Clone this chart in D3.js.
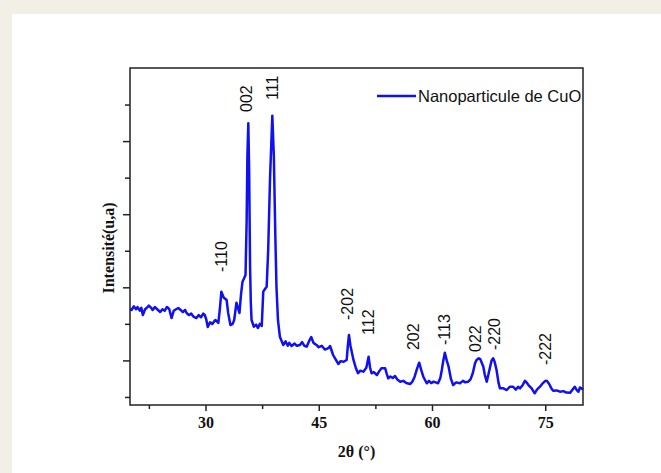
<!DOCTYPE html>
<html>
<head>
<meta charset="utf-8">
<script src="https://cdn.jsdelivr.net/npm/d3@7"></script>
<style>
  html, body { margin: 0; padding: 0; background: #f2efe7; }
  svg { display: block; }
</style>
</head>
<body>
<svg id="chart" width="661" height="473"></svg>
<script>
// ---- data ----
const twoTheta = [20.0,20.2,20.5,20.8,21.0,21.3,21.5,21.7,22.0,22.2,22.5,22.8,23.0,23.3,23.6,24.0,24.3,24.6,24.9,25.2,25.5,25.8,26.1,26.4,26.7,27.0,27.3,27.5,27.8,28.1,28.4,28.8,29.1,29.4,29.7,29.9,30.1,30.3,30.6,30.9,31.3,31.7,31.9,32.1,32.4,32.8,33.0,33.3,33.6,33.8,34.1,34.3,34.5,34.7,34.9,35.1,35.3,35.45,35.55,35.67,35.78,35.9,36.0,36.1,36.4,36.7,36.95,37.2,37.45,37.65,37.9,38.1,38.3,38.55,38.85,39.05,39.25,39.4,39.6,39.85,40.3,40.6,40.9,41.1,41.4,41.8,42.1,42.5,42.8,43.1,43.4,43.7,44.0,44.3,44.7,45.0,45.4,45.8,46.1,46.3,46.5,46.9,47.2,47.6,47.9,48.3,48.7,48.85,49.0,49.2,49.6,49.9,50.2,50.5,50.9,51.3,51.6,51.8,52.0,52.3,52.7,53.0,53.3,53.8,54.0,54.2,54.5,54.8,55.1,55.4,55.8,56.2,56.6,57.1,57.4,57.7,58.0,58.3,58.6,58.85,59.3,59.6,59.9,60.2,60.5,60.8,61.1,61.3,61.5,61.7,61.95,62.2,62.5,62.8,63.2,63.7,64.1,64.4,64.8,65.1,65.4,65.7,65.9,66.2,66.4,66.8,67.0,67.25,67.5,67.7,67.9,68.1,68.3,68.55,68.8,69.0,69.4,69.9,70.3,70.75,71.1,71.4,71.65,72.0,72.3,72.45,72.8,73.2,73.6,73.9,74.3,74.7,75.0,75.2,75.5,75.8,76.05,76.5,76.95,77.4,77.8,78.3,78.6,78.9,79.2,79.4,79.6,79.8,80.0];
const intensity = [1700,1690,1740,1700,1730,1680,1720,1621,1700,1717,1750,1720,1690,1730,1700,1662,1700,1680,1731,1700,1580,1680,1700,1717,1690,1660,1690,1649,1620,1640,1600,1580,1620,1590,1640,1621,1560,1457,1520,1500,1553,1512,1700,1940,1860,1826,1650,1484,1500,1553,1789,1720,1649,1900,2077,2120,2168,2900,3800,4244,3600,2300,1800,1553,1461,1490,1443,1500,1471,1940,1980,2008,2500,3500,4348,3800,2700,2008,1550,1324,1211,1260,1200,1240,1197,1230,1200,1211,1250,1200,1188,1260,1320,1240,1211,1180,1200,1150,1160,1170,1197,1074,1020,951,990,982,1006,1200,1348,1200,1006,900,824,860,846,900,1051,900,824,840,800,850,892,892,820,755,780,760,787,740,709,720,690,677,710,777,880,969,860,777,687,720,690,709,700,687,760,869,1000,1105,1000,914,750,664,700,687,720,700,709,740,824,960,1006,1030,1015,914,800,709,820,914,1000,1029,980,869,700,618,620,595,640,640,600,640,618,660,720,709,660,618,550,600,640,690,720,722,680,620,586,590,572,580,560,558,600,640,590,572,630,618,600];

const peakLabels = ["-110","002","111","-202","112","202","-113","022","-220","-222"];
const peakLabelTheta = [32.05,35.36,38.83,48.74,51.52,57.6,61.7,65.7,68.2,74.97];
const peakLabelBase = [2210,4398,4562,1553,1348,1142,1211,1115,1142,937];

const xMajorTicks = [30,45,60,75];
const xMinorTicks = [22.5,37.5,52.5,67.5];
const yMajorTicks = [1000,2000,3000,4000];
const yMinorTicks = [500,1500,2500,3500,4500];

const seriesName = "Nanoparticule de CuO";
const xTitle = "2θ (°)";
const yTitle = "Intensité(u,a)";

// ---- layout ----
const svg = d3.select("#chart");
const W = 661, H = 473;
const m = {left: 130, top: 68, right: 78, bottom: 68};
const pw = W - m.left - m.right, ph = H - m.top - m.bottom;

svg.append("rect").attr("x", 12).attr("y", 14).attr("width", W - 12).attr("height", H - 14).attr("fill", "#ffffff");

const x = d3.scaleLinear().domain([20, 80]).range([m.left, m.left + pw]);
const y = d3.scaleLinear().domain([390, 5000]).range([m.top + ph, m.top]);

const axisColor = "#222";

// x axis ticks
const gxMaj = svg.append("g").attr("transform", `translate(0,${m.top + ph})`)
  .call(d3.axisBottom(x).tickValues(xMajorTicks).tickSize(6).tickSizeOuter(0).tickPadding(6).tickFormat(d3.format("d")));
const gxMin = svg.append("g").attr("transform", `translate(0,${m.top + ph})`)
  .call(d3.axisBottom(x).tickValues(xMinorTicks).tickSize(4).tickSizeOuter(0).tickFormat(""));
// y axis ticks
const gyMaj = svg.append("g").attr("transform", `translate(${m.left},0)`)
  .call(d3.axisLeft(y).tickValues(yMajorTicks).tickSize(7).tickSizeOuter(0).tickFormat(""));
const gyMin = svg.append("g").attr("transform", `translate(${m.left},0)`)
  .call(d3.axisLeft(y).tickValues(yMinorTicks).tickSize(5).tickSizeOuter(0).tickFormat(""));

[gxMaj, gxMin, gyMaj, gyMin].forEach(g => {
  g.select(".domain").remove();
  g.selectAll(".tick line").attr("stroke", axisColor).attr("stroke-width", 1.5);
});
gxMaj.selectAll(".tick text")
  .attr("font-family", "'Liberation Serif', 'Times New Roman', serif")
  .attr("font-weight", "bold").attr("font-size", 16).attr("fill", "#111");

// series line
const line = d3.line().x((d, i) => x(twoTheta[i])).y(d => y(d));
svg.append("path").datum(intensity)
  .attr("d", line).attr("fill", "none")
  .attr("stroke", "#1010f0").attr("stroke-width", 2.5).attr("stroke-linejoin", "round");

// frame
svg.append("rect").attr("x", m.left).attr("y", m.top).attr("width", pw).attr("height", ph)
  .attr("fill", "none").attr("stroke", axisColor).attr("stroke-width", 1.5);

// peak labels
svg.append("g").selectAll("text").data(peakLabels).join("text")
  .attr("transform", (d, i) => `translate(${x(peakLabelTheta[i])},${y(peakLabelBase[i])}) rotate(-90)`)
  .attr("dy", "0.35em")
  .attr("font-family", "'Liberation Sans', Arial, sans-serif")
  .attr("font-size", 16).attr("fill", "#111")
  .text(d => d);

// legend
const lg = svg.append("g");
lg.append("line").attr("x1", 377).attr("x2", 416).attr("y1", 96).attr("y2", 96)
  .attr("stroke", "#1010f0").attr("stroke-width", 2.5);
lg.append("text").attr("x", 418).attr("y", 96).attr("dy", "0.35em")
  .attr("font-family", "'Liberation Sans', Arial, sans-serif")
  .attr("font-size", 16.5).attr("fill", "#111").text(seriesName);

// axis titles
svg.append("text").attr("x", m.left + pw / 2).attr("y", 457).attr("text-anchor", "middle")
  .attr("font-family", "'Liberation Serif', 'Times New Roman', serif")
  .attr("font-weight", "bold").attr("font-size", 16).attr("fill", "#111").text(xTitle);
svg.append("text").attr("transform", `translate(114,248) rotate(-90)`).attr("text-anchor", "middle")
  .attr("font-family", "'Liberation Serif', 'Times New Roman', serif")
  .attr("font-weight", "bold").attr("font-size", 16).attr("fill", "#111").text(yTitle);
</script>
</body>
</html>
